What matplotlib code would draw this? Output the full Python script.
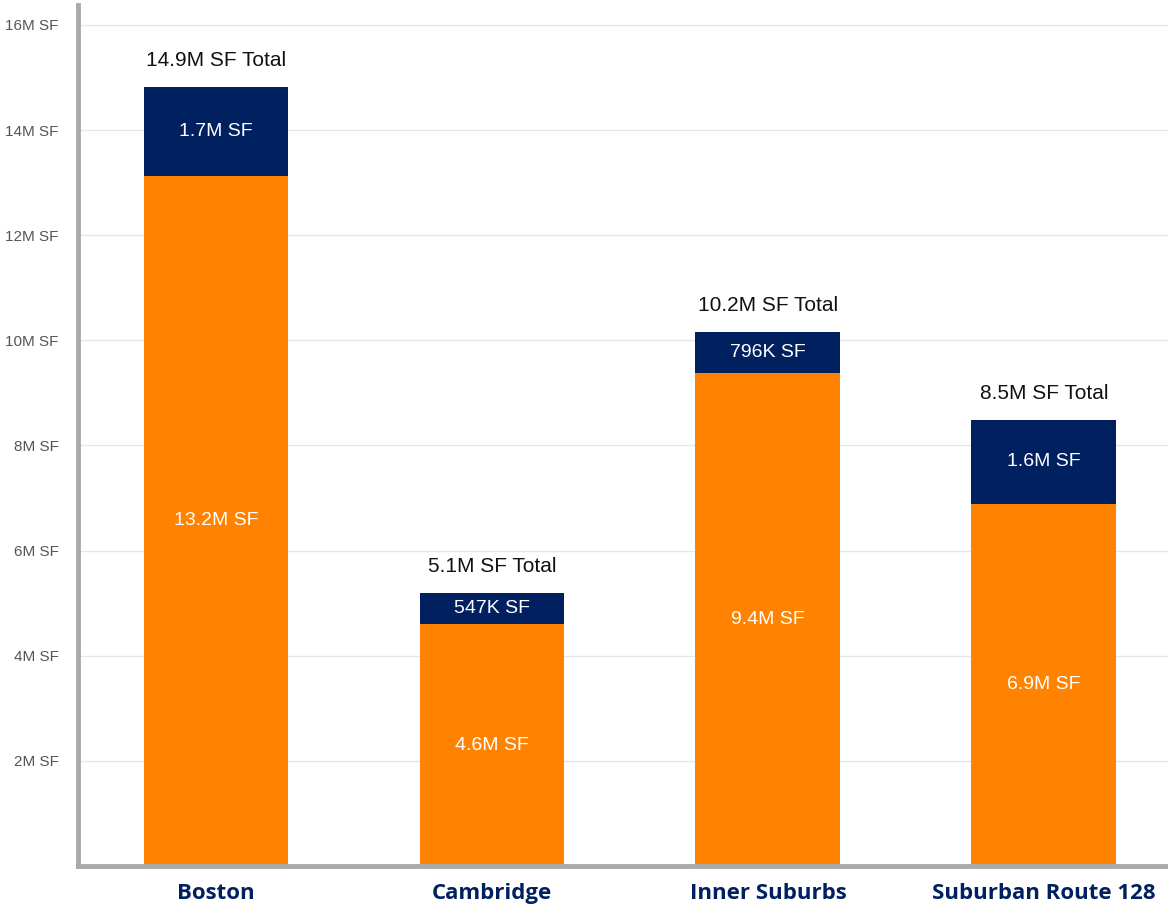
import matplotlib
matplotlib.use("Agg")
import matplotlib.pyplot as plt

# Data (millions of SF)
regions = ["Boston", "Cambridge", "Inner Suburbs", "Suburban Route 128"]
lower_vals = [13.13, 4.6, 9.38, 6.89]
upper_vals = [1.69, 0.59, 0.78, 1.6]
lower_labels = ["13.2M SF", "4.6M SF", "9.4M SF", "6.9M SF"]
upper_labels = ["1.7M SF", "547K SF", "796K SF", "1.6M SF"]
total_labels = ["14.9M SF Total", "5.1M SF Total", "10.2M SF Total", "8.5M SF Total"]
y_ticks = [2, 4, 6, 8, 10, 12, 14, 16]
y_tick_labels = ["2M SF", "4M SF", "6M SF", "8M SF", "10M SF", "12M SF", "14M SF", "16M SF"]

orange = "#FF8300"
navy = "#002060"

plt.rcParams["font.family"] = ["Liberation Sans", "DejaVu Sans"]

fig = plt.figure(figsize=(11.68, 9.06), dpi=100)
ax = fig.add_axes([0.0668, 0.0442, 0.9332, 0.9503])

x = list(range(len(regions)))
w = 0.525
ax.bar(x, lower_vals, width=w, color=orange, zorder=2)
ax.bar(x, upper_vals, width=w, bottom=lower_vals, color=navy, zorder=2)

for i in x:
    lo = lower_vals[i]
    up = upper_vals[i]
    ax.text(i, lo / 2, lower_labels[i], ha="center", va="center",
            color="white", fontsize=14, zorder=3)
    ax.text(i, lo + up / 2, upper_labels[i], ha="center", va="center",
            color="white", fontsize=14, zorder=3)
    ax.annotate(total_labels[i], (i, lo + up), xytext=(0, 19),
                textcoords="offset points", ha="center", va="center",
                fontsize=15, color="#111111", zorder=3,
                bbox=dict(boxstyle="square,pad=0.2", fc="white", ec="none"))

ax.set_xlim(-0.5, 3.45)
ax.set_ylim(0, 16.38)
ax.set_yticks(y_ticks)
ax.set_yticklabels(y_tick_labels, color="#555555", fontsize=11)
ax.set_xticks(x)
ax.set_xticklabels(regions, fontsize=16, fontweight="bold", color=navy,
                   family=["Open Sans", "DejaVu Sans"])
ax.tick_params(axis="both", length=0)
ax.tick_params(axis="y", pad=14)
ax.tick_params(axis="x", pad=12)

ax.grid(axis="y", color="#e6e6e6", linewidth=1, zorder=0)
ax.set_axisbelow(True)
for s in ["top", "right"]:
    ax.spines[s].set_visible(False)
for s in ["left", "bottom"]:
    ax.spines[s].set_color("#aaaaaa")
    ax.spines[s].set_linewidth(3.5)

fig.savefig("out.png", dpi=100)
